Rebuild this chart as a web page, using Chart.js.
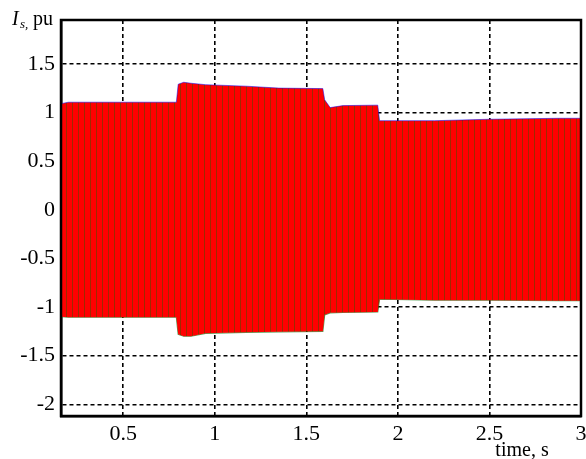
<!DOCTYPE html>
<html>
<head>
<meta charset="utf-8">
<script src="https://cdn.jsdelivr.net/npm/chart.js@4/dist/chart.umd.min.js"></script>
<style>
html,body{margin:0;padding:0;background:#fff;}
#wrap{width:586px;height:459px;position:relative;}
</style>
</head>
<body>
<div id="wrap"><canvas id="c" width="586" height="459"></canvas></div>
<script>
// time breakpoints (s) of the current envelope
const time = [0.16, 0.20, 0.79, 0.80, 0.83, 0.87, 0.95, 1.17, 1.35, 1.59, 1.60, 1.63, 1.70, 1.89, 1.90, 2.20, 2.50, 2.88, 3.00];
// upper envelope of the three phase currents (pu)
const upperEnvelope = [1.09, 1.105, 1.105, 1.29, 1.31, 1.30, 1.285, 1.27, 1.25, 1.245, 1.13, 1.05, 1.07, 1.075, 0.915, 0.915, 0.93, 0.94, 0.94];
// lower envelope of the three phase currents (pu)
const lowerEnvelope = [-1.10, -1.105, -1.105, -1.28, -1.30, -1.30, -1.27, -1.26, -1.255, -1.25, -1.08, -1.06, -1.055, -1.05, -0.92, -0.93, -0.93, -0.935, -0.935];
// tick labels
const xTicks = [0.5, 1, 1.5, 2, 2.5, 3];
const yTicks = [-2, -1.5, -1, -0.5, 0, 0.5, 1, 1.5];
const xMin = 0.16, xMax = 3.0, yMin = -2.12, yMax = 1.95;

const FONT = '"Liberation Serif","Times New Roman",serif';

// stripe pattern imitating the dense oscillations of the three phases
function stripePattern() {
  const pc = document.createElement('canvas');
  pc.width = 6; pc.height = 4;
  const p = pc.getContext('2d');
  p.fillStyle = '#ff0000';
  p.fillRect(0, 0, 6, 4);
  p.fillStyle = 'rgba(0,110,0,0.38)';
  p.fillRect(0, 0, 1, 4);
  return document.getElementById('c').getContext('2d').createPattern(pc, 'repeat');
}

const upperData = time.map((t, i) => ({x: t, y: upperEnvelope[i]}));
const lowerData = time.map((t, i) => ({x: t, y: lowerEnvelope[i]}));

const framePlugin = {
  id: 'frame',
  afterDraw(chart) {
    const {ctx, chartArea: a} = chart;
    ctx.save();
    ctx.strokeStyle = '#000';
    ctx.lineWidth = 2.5;
    ctx.setLineDash([]);
    ctx.strokeRect(a.left, a.top, a.right - a.left, a.bottom - a.top);
    // axis titles
    ctx.fillStyle = '#000';
    ctx.textBaseline = 'alphabetic';
    ctx.textAlign = 'left';
    ctx.font = 'italic 20px ' + FONT;
    ctx.fillText('I', 12, 25);
    ctx.font = 'italic 13px ' + FONT;
    ctx.fillText('s,', 20, 28);
    ctx.font = '20px ' + FONT;
    ctx.fillText('pu', 33, 25);
    ctx.textAlign = 'center';
    ctx.fillText('time, s', 522, 456);
    ctx.restore();
  }
};

new Chart(document.getElementById('c'), {
  type: 'line',
  data: {
    datasets: [
      {
        label: 'upper',
        data: upperData,
        borderColor: 'rgba(0,0,255,0.5)',
        borderWidth: 1,
        backgroundColor: stripePattern(),
        fill: '+1',
        pointRadius: 0,
        tension: 0
      },
      {
        label: 'lower',
        data: lowerData,
        borderColor: 'rgba(0,110,0,0.65)',
        borderWidth: 1.2,
        fill: false,
        pointRadius: 0,
        tension: 0
      }
    ]
  },
  options: {
    responsive: false,
    animation: false,
    devicePixelRatio: 1,
    layout: {padding: {top: 20, right: 5, left: 0, bottom: 0}},
    plugins: {legend: {display: false}, tooltip: {enabled: false}},
    scales: {
      x: {
        type: 'linear',
        min: xMin, max: xMax,
        afterBuildTicks(s) { s.ticks = xTicks.map(v => ({value: v})); },
        afterFit(s) { s.height = 43; s.paddingLeft = 0; s.paddingRight = 0; },
        border: {display: true, color: '#000', width: 2.5, dash: [4, 3]},
        grid: {color: '#000', lineWidth: 1.6, drawTicks: false},
        ticks: {
          color: '#000', padding: 5, maxRotation: 0, autoSkip: false,
          font: {family: FONT, size: 22},
          callback: v => String(v)
        }
      },
      y: {
        type: 'linear',
        min: yMin, max: yMax,
        afterBuildTicks(s) { s.ticks = yTicks.map(v => ({value: v})); },
        afterFit(s) { s.width = 61; s.paddingTop = 0; s.paddingBottom = 0; },
        border: {display: true, color: '#000', width: 2.5, dash: [4, 3]},
        grid: {color: '#000', lineWidth: 1.6, drawTicks: false},
        ticks: {
          color: '#000', padding: 6, autoSkip: false,
          font: {family: FONT, size: 22},
          callback: v => String(v)
        }
      }
    }
  },
  plugins: [framePlugin]
});
</script>
</body>
</html>
